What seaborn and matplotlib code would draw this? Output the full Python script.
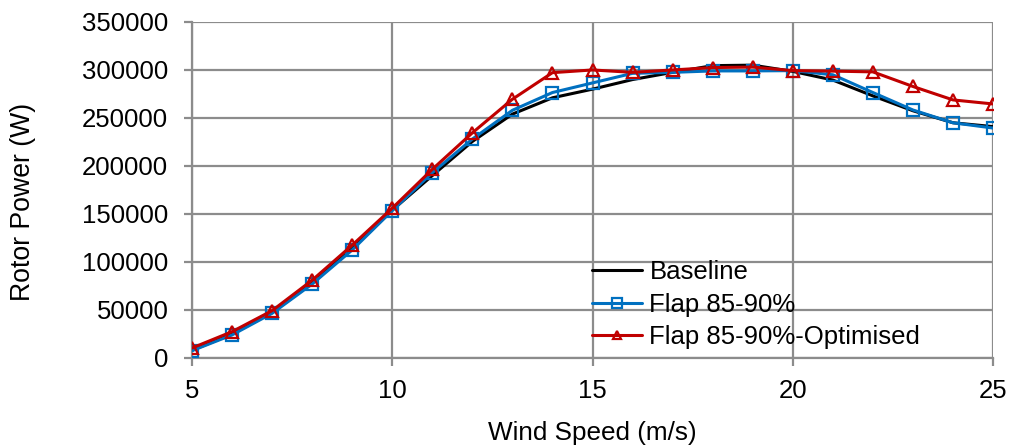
import numpy as np
import pandas as pd
import matplotlib
matplotlib.use("Agg")
import matplotlib.pyplot as plt
import seaborn as sns

wind_speed = [5, 6, 7, 8, 9, 10, 11, 12, 13, 14, 15, 16, 17, 18, 19, 20, 21, 22, 23, 24, 25]
baseline = [8000, 25000, 47500, 78000, 114000, 154000, 190000, 225500, 254000, 271000, 280000,
            290000, 297500, 304500, 305000, 298500, 289500, 273000, 257500, 245000, 241000]
flap = [7600, 24000, 46500, 77000, 112500, 153500, 193000, 228000, 258000, 276500, 286500,
        296500, 297500, 299000, 299000, 299300, 295000, 276500, 258300, 245000, 239500]
flap_opt = [10400, 27400, 49300, 81000, 117500, 156000, 196500, 234500, 269500, 297200, 300000,
            297500, 300000, 302500, 303000, 299300, 298800, 298000, 282800, 268800, 264600]

sns.set_theme(style="white")
plt.rcParams["font.family"] = ["Liberation Sans", "DejaVu Sans"]
plt.rcParams["text.color"] = "black"
plt.rcParams["axes.labelcolor"] = "black"

fig = plt.figure(figsize=(10.13, 4.48), dpi=100)
ax = fig.add_axes([0.1895, 0.2009, 0.7908, 0.7501])

grid_col = "#8c8c8c"
sns.lineplot(x=wind_speed, y=baseline, ax=ax, color="black", linewidth=2.2,
             label="Baseline", zorder=3)
sns.lineplot(x=wind_speed, y=flap, ax=ax, color="#0070C0", linewidth=2.2,
             marker="s", markersize=9, markerfacecolor="none", markeredgecolor="#0070C0",
             markeredgewidth=1.6, label="Flap 85-90%", zorder=4)
sns.lineplot(x=wind_speed, y=flap_opt, ax=ax, color="#C00000", linewidth=2.2,
             marker="^", markersize=8, markerfacecolor="none", markeredgecolor="#C00000",
             markeredgewidth=1.6, label="Flap 85-90%-Optimised", zorder=5)

ax.set_xlim(5, 25)
ax.set_ylim(0, 350000)
ax.set_xticks([5, 10, 15, 20, 25])
ax.set_yticks(np.arange(0, 350001, 50000))
ax.yaxis.set_major_formatter(matplotlib.ticker.FuncFormatter(lambda v, p: f"{int(v)}"))
ax.grid(True, color=grid_col, linewidth=1.6)
ax.set_axisbelow(True)
for s in ["top", "right"]:
    ax.spines[s].set_visible(False)
for s in ["left", "bottom"]:
    ax.spines[s].set_color(grid_col)
    ax.spines[s].set_linewidth(1.6)
ax.tick_params(axis="both", which="major", direction="out", length=6, width=1.6,
               color=grid_col, labelsize=18.5, labelcolor="black",
               left=True, bottom=True)
ax.tick_params(axis="y", pad=11)
ax.tick_params(axis="x", pad=9)
ax.set_xlabel("Wind Speed (m/s)", fontsize=18.8, labelpad=13)
ax.set_ylabel("Rotor Power (W)", fontsize=19.2)
ax.yaxis.set_label_coords(-0.1948, 0.464)

leg = ax.legend(loc="upper left", bbox_to_anchor=(0.487, 0.321), frameon=False,
                fontsize=18.5, handlelength=1.95, handletextpad=0.27, labelspacing=0.33,
                borderaxespad=0, markerscale=0.8)
for t in leg.get_texts():
    t.set_color("black")

fig.savefig("out.png", dpi=100)
